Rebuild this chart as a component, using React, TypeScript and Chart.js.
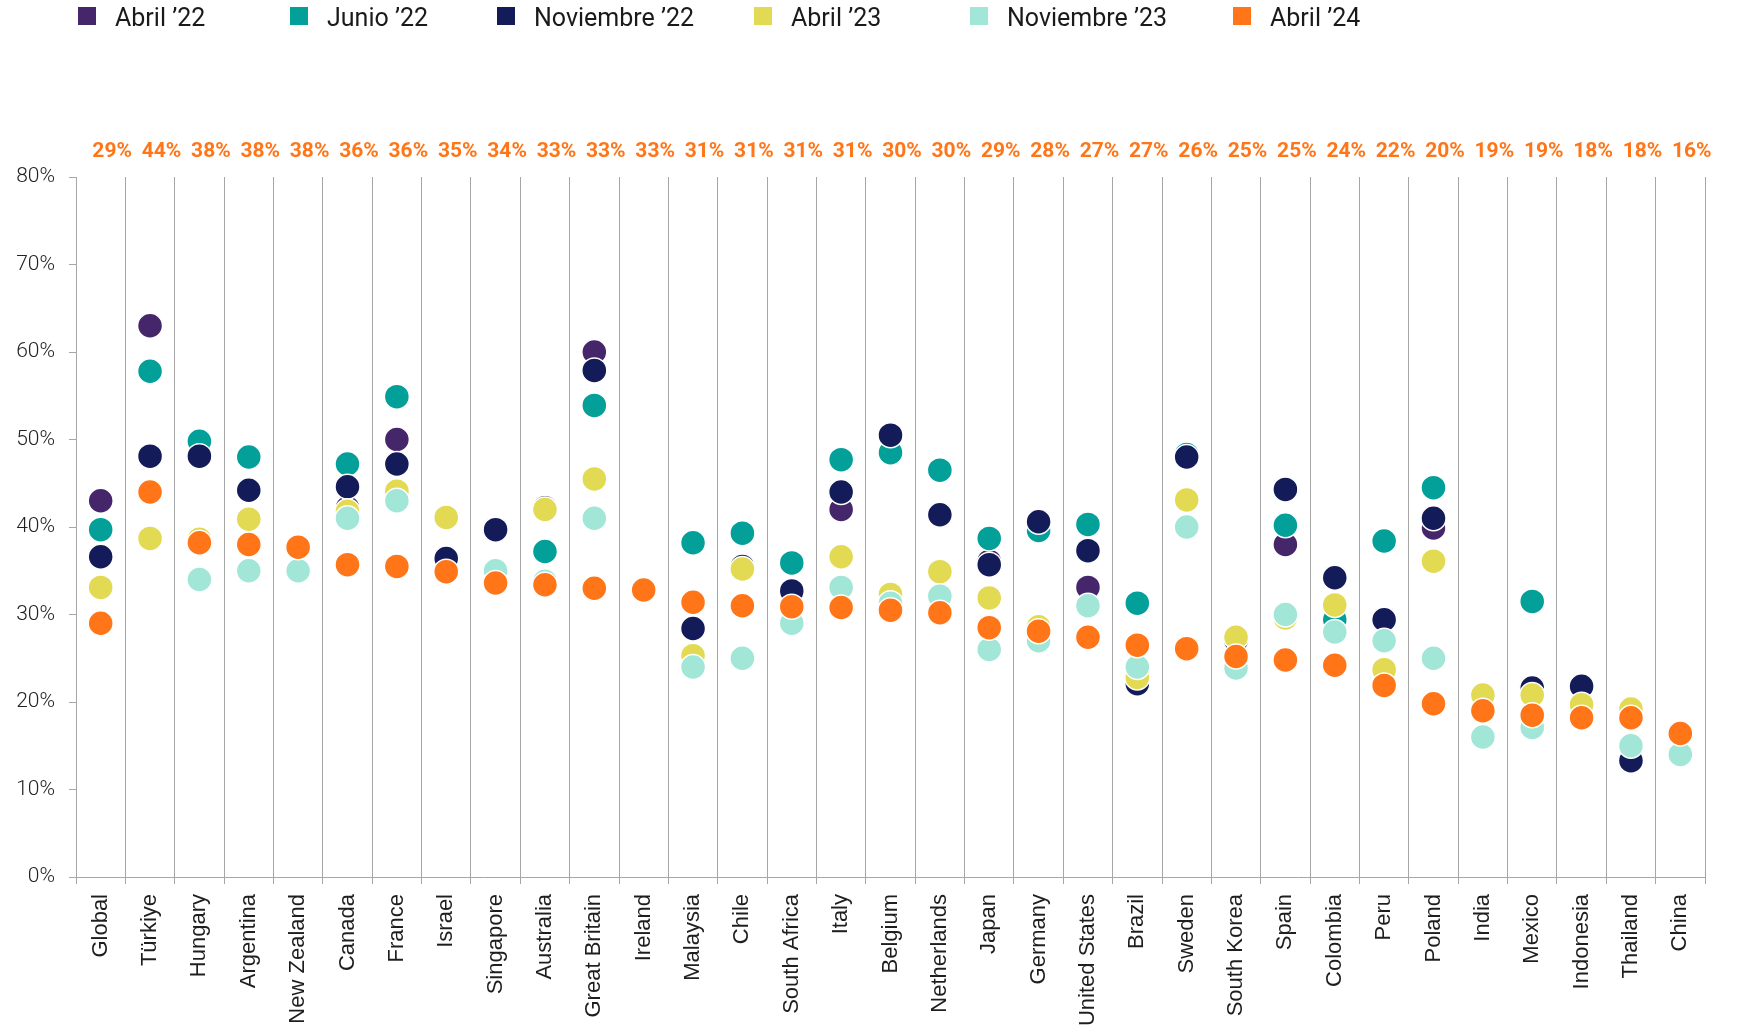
import React, { useEffect, useRef } from "react";
import { Chart, registerables } from "chart.js";

Chart.register(...registerables);

const categories = [
  "Global", "Türkiye", "Hungary", "Argentina", "New Zealand", "Canada", "France", "Israel",
  "Singapore", "Australia", "Great Britain", "Ireland", "Malaysia", "Chile", "South Africa",
  "Italy", "Belgium", "Netherlands", "Japan", "Germany", "United States", "Brazil", "Sweden",
  "South Korea", "Spain", "Colombia", "Peru", "Poland", "India", "Mexico", "Indonesia",
  "Thailand", "China",
];

const topLabels = [
  "29%", "44%", "38%", "38%", "38%", "36%", "36%", "35%", "34%", "33%", "33%", "33%",
  "31%", "31%", "31%", "31%", "30%", "30%", "29%", "28%", "27%", "27%", "26%", "25%",
  "25%", "24%", "22%", "20%", "19%", "19%", "18%", "18%", "16%",
];

const seriesLabels = ["Abril ’22", "Junio ’22", "Noviembre ’22", "Abril ’23", "Noviembre ’23", "Abril ’24"];
const seriesColors = ["#46266A", "#03A09A", "#141B59", "#E2DA52", "#A2E6D8", "#FF7517"];

const abril22 = [43.0, 63.0, null, null, null, 42.2, 50.0, null, null, null, 60.0, null, null, null, null, 42.0, null, null, 36.1, null, 33.1, null, null, null, 38.0, null, null, 39.9, null, null, null, null, null];
const junio22 = [39.7, 57.8, 49.8, 48.0, null, 47.2, 54.9, null, null, 37.2, 53.9, null, 38.2, 39.3, 35.9, 47.7, 48.5, 46.5, 38.7, 39.6, 40.3, 31.3, 48.3, null, 40.2, 29.4, 38.4, 44.5, null, 31.5, null, null, null];
const noviembre22 = [36.6, 48.1, 48.1, 44.2, null, 44.6, 47.2, 36.4, 39.7, 42.2, 57.9, null, 28.4, 35.5, 32.7, 44.0, 50.5, 41.4, 35.7, 40.6, 37.3, 22.1, 48.0, 27.0, 44.3, 34.2, 29.4, 41.0, null, 21.6, 21.8, 13.3, null];
const abril23 = [33.1, 38.7, 38.6, 40.9, null, 41.8, 44.1, 41.1, null, 42.0, 45.5, null, 25.3, 35.2, null, 36.6, 32.3, 34.9, 31.9, 28.6, null, 22.8, 43.1, 27.4, 29.6, 31.1, 23.7, 36.1, 20.8, 20.8, 19.7, 19.2, null];
const noviembre23 = [null, null, 34.0, 35.0, 35.0, 41.0, 43.0, null, 35.0, 33.8, 41.0, null, 24.0, 25.0, 29.0, 33.1, 31.3, 32.1, 26.0, 27.0, 31.0, 24.0, 40.0, 23.9, 30.0, 28.0, 27.0, 25.0, 16.0, 17.1, null, 15.0, 14.0];
const abril24 = [29.0, 44.0, 38.2, 38.0, 37.7, 35.7, 35.5, 34.9, 33.6, 33.4, 33.0, 32.8, 31.4, 31.0, 30.9, 30.8, 30.5, 30.2, 28.5, 28.1, 27.4, 26.5, 26.1, 25.2, 24.8, 24.2, 21.9, 19.8, 19.0, 18.5, 18.2, 18.2, 16.4];

const seriesValues = [abril22, junio22, noviembre22, abril23, noviembre23, abril24];
const yTicks = [0, 10, 20, 30, 40, 50, 60, 70, 80];

const GRID = "#a6a6a6";
const LEGEND_X = [78, 290, 497, 754, 970, 1233];

const overlayPlugin = {
  id: "overlay",
  afterDraw(chart: any) {
    const { ctx } = chart;
    const xs = chart.scales.x;
    ctx.save();
    // value labels on top (slightly right of category centres, as in the original)
    ctx.font = "700 21px Roboto";
    ctx.fillStyle = "#FF7517";
    ctx.textAlign = "center";
    ctx.textBaseline = "alphabetic";
    topLabels.forEach((t, i) => ctx.fillText(t, xs.getPixelForValue(i) + 11.5, 157));
    // legend
    ctx.font = "400 25px Roboto";
    ctx.textAlign = "left";
    chart.data.datasets.forEach((ds: any, i: number) => {
      const x = LEGEND_X[i];
      ctx.fillStyle = ds.backgroundColor;
      ctx.fillRect(x, 7, 18, 18);
      ctx.fillStyle = "#1a1a1a";
      ctx.fillText(ds.label, x + 37, 26);
    });
    ctx.restore();
  },
};

export default function App() {
  const ref = useRef<HTMLCanvasElement | null>(null);

  useEffect(() => {
    if (!ref.current) return;
    const chart = new Chart(ref.current, {
      type: "line",
      data: {
        labels: categories,
        datasets: seriesLabels.map((label, i) => ({
          label,
          data: seriesValues[i],
          backgroundColor: seriesColors[i],
          borderColor: "#ffffff",
          pointBackgroundColor: seriesColors[i],
          pointBorderColor: "#ffffff",
          pointBorderWidth: 1.5,
          pointRadius: 12.5,
          pointHoverRadius: 12.5,
          showLine: false,
          order: seriesLabels.length - i,
        })),
      },
      options: {
        responsive: false,
        devicePixelRatio: 1,
        animation: false,
        events: [],
        layout: { padding: { top: 177, right: 37, bottom: 0, left: 0 } },
        plugins: {
          legend: { display: false },
          tooltip: { enabled: false },
          title: { display: false },
        },
        scales: {
          x: {
            type: "category",
            offset: true,
            grid: {
              offset: true,
              display: true,
              drawOnChartArea: true,
              drawTicks: true,
              tickLength: 7,
              color: GRID,
              lineWidth: 1,
            },
            border: { display: true, color: GRID, width: 1 },
            ticks: {
              autoSkip: false,
              minRotation: 90,
              maxRotation: 90,
              padding: 10,
              color: "#1e1e1e",
              font: { family: "'Liberation Sans', Arial, sans-serif", size: 22 },
            },
            afterFit: (s: any) => {
              s.height = 158;
            },
          },
          y: {
            min: 0,
            max: 80,
            afterBuildTicks: (s: any) => {
              s.ticks = yTicks.map((v) => ({ value: v }));
            },
            grid: {
              drawOnChartArea: false,
              drawTicks: true,
              tickLength: 7,
              color: GRID,
              lineWidth: 1,
            },
            border: { display: true, color: GRID, width: 1 },
            ticks: {
              padding: 14,
              color: "#222222",
              font: { family: "Roboto", size: 21, weight: 300 as any },
              callback: (v: any) => `${v}%`,
            },
            afterFit: (s: any) => {
              s.width = 76;
            },
          },
        },
      },
      plugins: [overlayPlugin],
    } as any);
    return () => chart.destroy();
  }, []);

  return (
    <div style={{ position: "fixed", left: 0, top: 0, width: 1742, height: 1035, background: "#fff" }}>
      <canvas ref={ref} width={1742} height={1035} style={{ display: "block" }} />
    </div>
  );
}
